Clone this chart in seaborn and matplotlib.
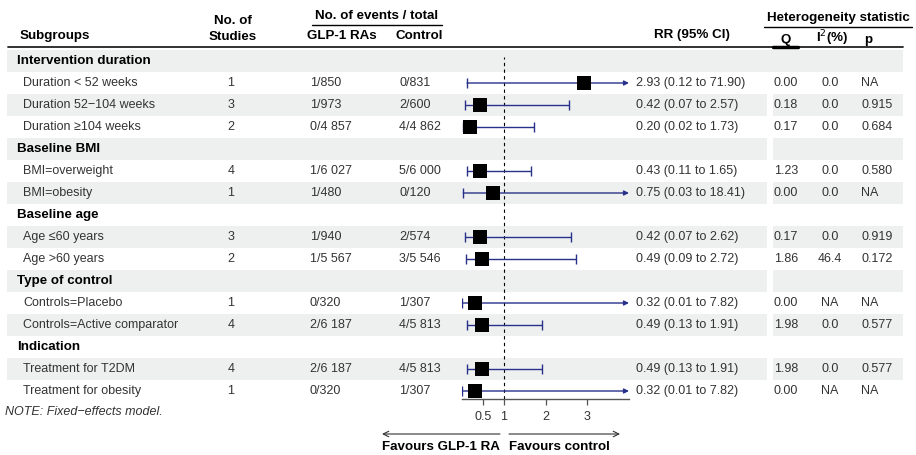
import numpy as np
import pandas as pd
import matplotlib
matplotlib.use("Agg")
import matplotlib.pyplot as plt
import seaborn as sns

# ── DATA ───────────────────────────────────────────────────────────
labels = ["Intervention duration", "Duration < 52 weeks", "Duration 52\u2212104 weeks",
          "Duration \u2265104 weeks", "Baseline BMI", "BMI=overweight", "BMI=obesity",
          "Baseline age", "Age \u226460 years", "Age >60 years", "Type of control",
          "Controls=Placebo", "Controls=Active comparator", "Indication",
          "Treatment for T2DM", "Treatment for obesity"]
studies = [None, 1, 3, 2, None, 4, 1, None, 3, 2, None, 1, 4, None, 4, 1]
glp_events = ["", "1/850", "1/973", "0/4 857", "", "1/6 027", "1/480", "", "1/940",
              "1/5 567", "", "0/320", "2/6 187", "", "2/6 187", "0/320"]
ctrl_events = ["", "0/831", "2/600", "4/4 862", "", "5/6 000", "0/120", "", "2/574",
               "3/5 546", "", "1/307", "4/5 813", "", "4/5 813", "1/307"]
rr = [np.nan, 2.93, 0.42, 0.20, np.nan, 0.43, 0.75, np.nan, 0.42, 0.49, np.nan,
      0.32, 0.49, np.nan, 0.49, 0.32]
ci_lo = [np.nan, 0.12, 0.07, 0.02, np.nan, 0.11, 0.03, np.nan, 0.07, 0.09, np.nan,
         0.01, 0.13, np.nan, 0.13, 0.01]
ci_hi = [np.nan, 71.90, 2.57, 1.73, np.nan, 1.65, 18.41, np.nan, 2.62, 2.72, np.nan,
         7.82, 1.91, np.nan, 1.91, 7.82]
q_stat = ["", "0.00", "0.18", "0.17", "", "1.23", "0.00", "", "0.17", "1.86", "",
          "0.00", "1.98", "", "1.98", "0.00"]
i2_stat = ["", "0.0", "0.0", "0.0", "", "0.0", "0.0", "", "0.0", "46.4", "",
           "NA", "0.0", "", "0.0", "NA"]
p_stat = ["", "NA", "0.915", "0.684", "", "0.580", "NA", "", "0.919", "0.172", "",
          "NA", "0.577", "", "0.577", "NA"]
x_ticks = [0.5, 1, 2, 3]
X_MAX = 4

df = pd.DataFrame(dict(label=labels, studies=studies, glp=glp_events, ctrl=ctrl_events,
                       rr=rr, lo=ci_lo, hi=ci_hi, q=q_stat, i2=i2_stat, p=p_stat))
df["row"] = np.arange(len(df))
df["header"] = df["studies"].isna()

# ── LAYOUT (pixels) ────────────────────────────────────────────────
W, H = 916, 455
ROW0, ROW_H = 61, 22          # y of first row, row pitch
AX_TOP, AX_BOT = 50, 399      # forest panel vertical extent
AX_L, AX_R = 462, 629         # forest panel horizontal extent (0 .. X_MAX)
LINE_COL = "#283189"
TXT = "#333333"
SHADE = "#EEF0EF"
FS_BODY, FS_BOLD = 9, 9.6

sns.set_style("white")
plt.rcParams["font.family"] = ["Liberation Sans", "DejaVu Sans"]

fig = plt.figure(figsize=(W / 100, H / 100), dpi=100)
bg = fig.add_axes([0, 0, 1, 1])
bg.set_xlim(0, W)
bg.set_ylim(H, 0)
bg.axis("off")

def ry(i):
    return ROW0 + ROW_H * i

# row shading
for i in df["row"]:
    if i % 2 == 0:
        y0, y1 = ry(i) - ROW_H / 2, ry(i) + ROW_H / 2
        if i == 0:
            bg.fill_between([7, 903], y0, y1, color=SHADE, lw=0, zorder=0)
        else:
            bg.fill_between([7, 767], y0, y1, color=SHADE, lw=0, zorder=0)
            bg.fill_between([773, 903], y0, y1, color=SHADE, lw=0, zorder=0)

# column headers
hb = dict(fontsize=FS_BOLD, fontweight="bold", color="black", va="center")
bg.text(20, 36, "Subgroups", ha="left", **hb)
bg.text(233, 21, "No. of", ha="center", **hb)
bg.text(233, 37, "Studies", ha="center", **hb)
bg.text(377, 16, "No. of events / total", ha="center", **hb)
bg.plot([312, 442], [25, 25], color="black", lw=1)
bg.text(307, 36, "GLP-1 RAs", ha="left", **hb)
bg.text(395, 36, "Control", ha="left", **hb)
bg.text(692, 35, "RR (95% CI)", ha="center", **hb)
bg.text(838, 18, "Heterogeneity statistic", ha="center", **hb)
bg.plot([764, 912], [27, 27], color="black", lw=1)
bg.text(786, 40, "Q", ha="center", **hb)
bg.text(832, 38, "I$^{2}$(%)", ha="center", **hb)
bg.text(868, 40, "p", ha="center", **hb)
bg.plot([8, 903], [47, 47], color="#222222", lw=1.3)
bg.plot([773, 798], [47, 47], color="black", lw=2.5)

# table body
for _, r in df.iterrows():
    y = ry(r["row"])
    if r["header"]:
        bg.text(17, y, r["label"], fontsize=FS_BOLD, fontweight="bold", color="black",
                ha="left", va="center")
        continue
    body = dict(fontsize=FS_BODY, color=TXT, va="center")
    bg.text(23, y, r["label"], ha="left", **body)
    bg.text(231, y, f"{int(r['studies'])}", ha="center", **body)
    bg.text(310, y, r["glp"], ha="left", **body)
    bg.text(399, y, r["ctrl"], ha="left", **body)
    bg.text(636, y, f"{r['rr']:.2f} ({r['lo']:.2f} to {r['hi']:.2f})", ha="left", **body)
    bg.text(774, y, r["q"], ha="left", **body)
    bg.text(830, y, r["i2"], ha="center", **body)
    bg.text(861, y, r["p"], ha="left", **body)

bg.text(5, 412, "NOTE: Fixed\u2212effects model.", fontsize=FS_BODY, style="italic",
        color=TXT, ha="left", va="center")

# favours arrows
bg.annotate("", xy=(382, 434), xytext=(500, 434),
            arrowprops=dict(arrowstyle="->", color="#333333", lw=0.8, shrinkA=0, shrinkB=0))
bg.annotate("", xy=(620, 434), xytext=(509, 434),
            arrowprops=dict(arrowstyle="->", color="#333333", lw=0.8, shrinkA=0, shrinkB=0))
bg.text(500, 447, "Favours GLP-1 RA", fontsize=FS_BOLD, fontweight="bold", ha="right",
        va="center", color="black")
bg.text(509, 447, "Favours control", fontsize=FS_BOLD, fontweight="bold", ha="left",
        va="center", color="black")

# ── FOREST PANEL ───────────────────────────────────────────────────
fx = fig.add_axes([AX_L / W, (H - AX_BOT) / H, (AX_R - AX_L) / W, (AX_BOT - AX_TOP) / H])
fx.patch.set_alpha(0)
fx.set_xlim(0, X_MAX)
fx.set_ylim((AX_BOT - ROW0) / ROW_H, (AX_TOP - ROW0) / ROW_H)

est = df.dropna(subset=["rr"])
fx.axvline(1, ymin=0, ymax=0.98, color="black", ls=(0, (3, 3)), lw=0.8, zorder=1)

cap = 0.22
for _, r in est.iterrows():
    y = r["row"]
    if r["hi"] > X_MAX:
        fx.annotate("", xy=(X_MAX, y), xytext=(r["lo"], y),
                    arrowprops=dict(arrowstyle="-|>", color=LINE_COL, lw=1.0,
                                    mutation_scale=7, shrinkA=0, shrinkB=0),
                    annotation_clip=False, zorder=2)
    else:
        fx.hlines(y, r["lo"], r["hi"], color=LINE_COL, lw=1.0, zorder=2)
        fx.vlines(r["hi"], y - cap, y + cap, color=LINE_COL, lw=1.0, zorder=2)
    fx.vlines(r["lo"], y - cap, y + cap, color=LINE_COL, lw=1.0, zorder=2)

sns.scatterplot(data=est, x="rr", y="row", marker="s", s=90, color="black",
                linewidth=0, legend=False, ax=fx, zorder=3, clip_on=False)

for s in ["top", "right", "left"]:
    fx.spines[s].set_visible(False)
fx.spines["bottom"].set_color("#555555")
fx.spines["bottom"].set_linewidth(1.0)
fx.set_yticks([])
fx.set_xticks(x_ticks)
fx.set_xticklabels([f"{t:g}" for t in x_ticks])
fx.tick_params(axis="x", direction="out", length=4, width=0.9, color="#555555",
               labelsize=FS_BODY, labelcolor=TXT, pad=5, bottom=True)
fx.set_xlabel("")
fx.set_ylabel("")

plt.savefig("out.png", dpi=100)
